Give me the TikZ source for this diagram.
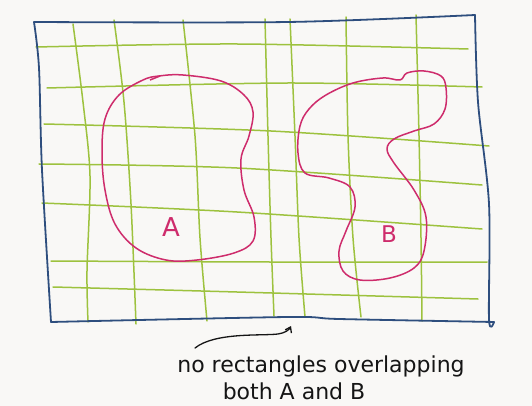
\documentclass[tikz,border=0pt]{standalone}
\usepackage{fontspec}
\setmainfont{DejaVu Sans}
\definecolor{paper}{HTML}{F9F8F6}
\definecolor{frameblue}{HTML}{2E4E7E}
\definecolor{gridgreen}{HTML}{9DC23E}
\definecolor{blobpink}{HTML}{CE2C6C}
\definecolor{inkblack}{HTML}{151515}
\tikzset{
  frameline/.style={draw=frameblue, line width=1.8pt, line cap=round, line join=round},
  gridline/.style={draw=gridgreen, line width=1.5pt, line cap=round},
  blobline/.style={draw=blobpink, line width=1.5pt, line join=round},
  bloblabel/.style={text=blobpink, inner sep=0pt},
  note/.style={text=inkblack, font=\fontsize{22}{24}\selectfont, inner sep=0pt},
  pointer/.style={draw=inkblack, line width=1.3pt, -{Straight Barb[length=5pt,width=7pt]}, line cap=round}
}
\usetikzlibrary{arrows.meta}
\begin{document}
\begin{tikzpicture}[x=1pt,y=-1pt]
\fill[paper] (0,0) rectangle (532,406);
\useasboundingbox (0,0) rectangle (532,406);
% grid horizontals
\draw[gridline] plot[smooth] coordinates {(36,47) (237,44) (468,49)};
\draw[gridline] plot[smooth] coordinates {(47,88) (288,83) (482,87)};
\draw[gridline] plot[smooth] coordinates {(44,124) (271,131) (489,146)};
\draw[gridline] plot[smooth] coordinates {(39,164) (237,168) (482,185)};
\draw[gridline] plot[smooth] coordinates {(42,203) (237,212) (482,229)};
\draw[gridline] plot[smooth] coordinates {(51,261) (270,262) (487,262)};
\draw[gridline] plot[smooth] coordinates {(53,287) (237,292) (478,299)};
% grid verticals
\draw[gridline] plot[smooth] coordinates {(73,24) (83,102) (90,176) (87,271) (88,322)};
\draw[gridline] plot[smooth] coordinates {(114,20) (124,102) (131,204) (136,324)};
\draw[gridline] plot[smooth] coordinates {(183,20) (195,136) (200,238) (207,321)};
\draw[gridline] plot[smooth] coordinates {(265,19) (268,136) (271,238) (274,316)};
\draw[gridline] plot[smooth] coordinates {(290,19) (295,136) (299,238) (305,317)};
\draw[gridline] plot[smooth] coordinates {(346,17) (348,136) (353,238) (361,317)};
\draw[gridline] plot[smooth] coordinates {(416,15) (419,136) (421,238) (422,321)};
% frame
\draw[frameline] plot[smooth] coordinates {(34,22) (288,22) (475,15)};
\draw[frameline] plot[smooth] coordinates {(475,15) (478,102) (489,204) (489,319) (494,322)};
\draw[frameline] plot[smooth] coordinates {(34,22) (39,68) (42,170) (51,322)};
\draw[frameline] plot[smooth] coordinates {(51,322) (288,317) (339,319) (494,322)};
% blob A
\draw[blobline] plot[smooth cycle, tension=0.6] coordinates {
 (159,76) (183,75) (221,81) (244,95) (253,112) (249,136) (241,159) (244,190)
 (254,217) (253,241) (234,253) (197,260) (166,260) (136,248) (115,224)
 (105,190) (102,153) (105,119) (119,95) (143,80)};
\draw[blobline] (150,80) -- (160,76);
% blob B
\draw[blobline] plot[smooth cycle, tension=0.6] coordinates {
 (407,73) (424,71) (441,76) (446,88) (445,109) (434,124) (414,131) (394,139)
 (387,149) (394,163) (414,190) (426,217) (424,251) (414,268) (390,278)
 (360,280) (343,271) (339,251) (346,231) (355,207) (350,187) (329,178)
 (305,173) (298,153) (300,126) (309,109) (326,95) (353,83) (383,78) (400,80)};
% labels
\node[bloblabel, font=\fontsize{26}{26}\selectfont] (labA) at (171,227) {A};
\node[bloblabel, font=\fontsize{23}{23}\selectfont] (labB) at (389,234) {B};
\node[note, anchor=base] (note1) at (321,372) {no rectangles overlapping};
\node[note, anchor=base] (note2) at (294,399) {both A and B};
\coordinate (arrowstart) at (195,348);
\coordinate (arrowend) at (291,326);
\draw[pointer] (arrowstart) .. controls (215,332) and (262,336) .. (278,334) .. controls (285,333) and (289,330) .. (arrowend);
\end{tikzpicture}
\end{document}
